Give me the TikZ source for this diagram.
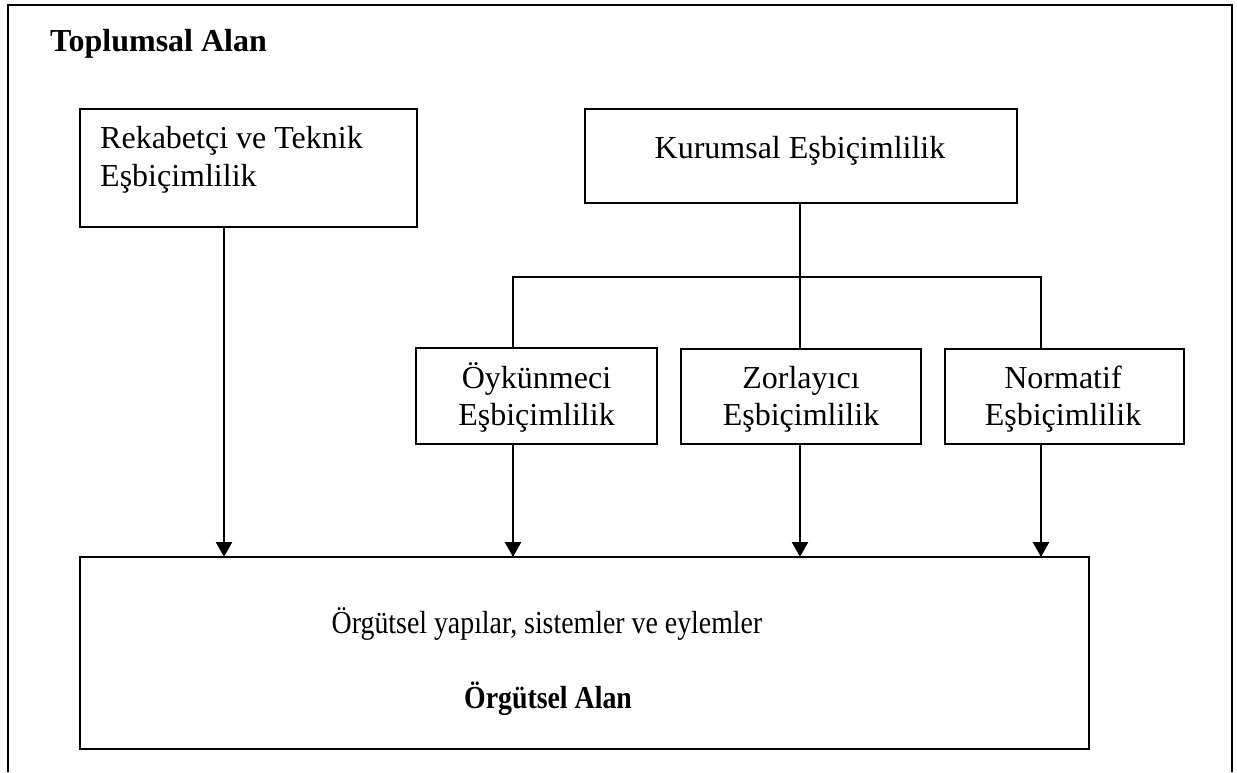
\documentclass[tikz,border=0pt]{standalone}
\usepackage{fontspec}
\setmainfont{Liberation Serif}
\usetikzlibrary{arrows.meta}
\newcommand{\narrowtext}[1]{\scalebox{0.87}[1]{#1}}
\begin{document}
\begin{tikzpicture}[x=1pt,y=-1pt,
  box/.style={draw, line width=1.7pt, inner sep=0pt, outer sep=0pt},
  txt/.style={font=\fontsize{32}{38}\selectfont, anchor=base, inner sep=0pt},
  btxt/.style={font=\fontsize{32}{38}\selectfont\bfseries, anchor=base, inner sep=0pt},
  arr/.style={line width=2.6pt, -{Triangle[width=16pt,length=15pt]}},
  conn/.style={line width=1.7pt}]
\useasboundingbox (0,0) rectangle (1237,772);
\draw[line width=2.2pt] (8,772) -- (8,5) -- (1232,5) -- (1232,772);
% boxes
\node[box, minimum width=337pt, minimum height=118pt] (rek) at (248.5,168) {};
\node[box, minimum width=432pt, minimum height=94pt] (kur) at (801,156) {};
\node[box, minimum width=241pt, minimum height=96pt] (oyk) at (536.5,396) {};
\node[box, minimum width=240pt, minimum height=95pt] (zor) at (801,396.5) {};
\node[box, minimum width=239pt, minimum height=95pt] (nor) at (1064.5,396.5) {};
\node[box, minimum width=1009pt, minimum height=192pt] (org) at (584.5,653) {};
% texts
\node[btxt, anchor=base west] (title) at (50,51) {Toplumsal Alan};
\node[txt, anchor=base west] (rek1) at (100,148) {Rekabetçi ve Teknik};
\node[txt, anchor=base west] (rek2) at (100,186) {Eşbiçimlilik};
\node[txt] (kur1) at (800,158) {Kurumsal Eşbiçimlilik};
\node[txt] (oyk1) at (536.5,388) {Öykünmeci};
\node[txt] (oyk2) at (536.5,425) {Eşbiçimlilik};
\node[txt] (zor1) at (801,388) {Zorlayıcı};
\node[txt] (zor2) at (801,425) {Eşbiçimlilik};
\node[txt] (nor1) at (1063,388) {Normatif};
\node[txt] (nor2) at (1063,425) {Eşbiçimlilik};
\node[txt] (org1) at (547,633) {\narrowtext{Örgütsel yapılar, sistemler ve eylemler}};
\node[btxt] (org2) at (548,708) {\narrowtext{Örgütsel Alan}};
% connectors
\draw[conn] (800,0 |- kur.south) -- (800,0 |- zor.north);
\draw[conn] (513,0 |- oyk.north) -- (513,277) -- (1041,277) -- (1041,0 |- nor.north);
\draw[arr] (224,0 |- rek.south) -- (224,0 |- org.north);
\draw[arr] (513,0 |- oyk.south) -- (513,0 |- org.north);
\draw[arr] (800,0 |- zor.south) -- (800,0 |- org.north);
\draw[arr] (1041,0 |- nor.south) -- (1041,0 |- org.north);
\end{tikzpicture}
\end{document}
